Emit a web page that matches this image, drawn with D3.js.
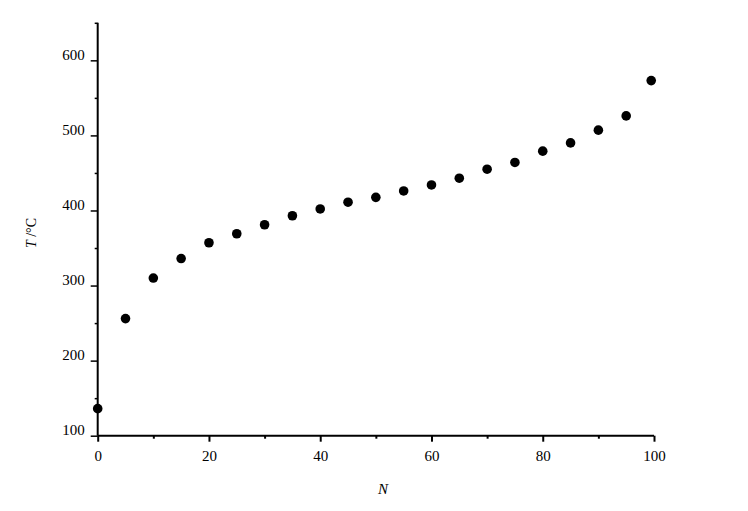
<!DOCTYPE html>
<html>
<head>
<meta charset="utf-8">
<script src="https://cdn.jsdelivr.net/npm/d3@7"></script>
<style>
  html, body { margin: 0; padding: 0; background: #fff; }
  svg { display: block; }
  text { font-family: "Liberation Serif", "DejaVu Serif", serif; fill: #000; }
</style>
</head>
<body>
<svg id="chart" width="748" height="511"></svg>
<script>
// Data
const nValues = [0, 5, 10, 15, 20, 25, 30, 35, 40, 45, 50, 55, 60, 65, 70, 75, 80, 85, 90, 95, 99.5];
const tValues = [136, 256, 310, 336, 357, 369, 381, 393, 402, 411, 417.5, 426, 434, 443, 455, 464, 479, 490, 507, 526, 573];
const xMajorTicks = [0, 20, 40, 60, 80, 100];
const xMinorTicks = [10, 30, 50, 70, 90];
const yMajorTicks = [100, 200, 300, 400, 500, 600];
const yMinorTicks = [150, 250, 350, 450, 550, 650];
const xTitle = "N";
const yTitle = "T /°C";

const svg = d3.select("#chart");
const x = d3.scaleLinear().domain([0, 100]).range([97.7, 654]);
const y = d3.scaleLinear().domain([100, 650]).range([435.7, 22.8]);

// Axis lines
svg.append("line").attr("x1", x(0)).attr("x2", x(100)).attr("y1", y(100)).attr("y2", y(100))
  .attr("stroke", "#000").attr("stroke-width", 2);
svg.append("line").attr("x1", x(0)).attr("x2", x(0)).attr("y1", y(100)).attr("y2", y(650))
  .attr("stroke", "#000").attr("stroke-width", 2);

// X axis ticks
const xAxisMajor = d3.axisBottom(x).tickValues(xMajorTicks).tickSize(6).tickPadding(9).tickFormat(d3.format("d"));
const gx = svg.append("g").attr("transform", `translate(0,${y(100)})`).call(xAxisMajor);
gx.select(".domain").remove();
gx.selectAll(".tick line").attr("stroke-width", 2);
gx.selectAll(".tick text").attr("font-size", 15).attr("font-family", "Liberation Serif");
const xAxisMinor = d3.axisBottom(x).tickValues(xMinorTicks).tickSize(3).tickFormat("");
const gxm = svg.append("g").attr("transform", `translate(0,${y(100)})`).call(xAxisMinor);
gxm.select(".domain").remove();
gxm.selectAll(".tick line").attr("stroke-width", 2);

// Y axis ticks
const yAxisMajor = d3.axisLeft(y).tickValues(yMajorTicks).tickSize(7).tickPadding(6).tickFormat(d3.format("d"));
const gy = svg.append("g").attr("transform", `translate(${x(0)},0)`).call(yAxisMajor);
gy.select(".domain").remove();
gy.selectAll(".tick line").attr("stroke-width", 1.5);
gy.selectAll(".tick text").attr("font-size", 15).attr("dy", "-0.05em").attr("font-family", "Liberation Serif");
const yAxisMinor = d3.axisLeft(y).tickValues(yMinorTicks).tickSize(3).tickFormat("");
const gym = svg.append("g").attr("transform", `translate(${x(0)},0)`).call(yAxisMinor);
gym.select(".domain").remove();
gym.selectAll(".tick line").attr("stroke-width", 1.5);

// Titles
svg.append("text").attr("x", 383).attr("y", 494).attr("text-anchor", "middle")
  .attr("font-size", 15).attr("font-style", "italic").text(xTitle);
const yt = svg.append("text").attr("transform", "translate(36,233) rotate(-90)")
  .attr("text-anchor", "middle").attr("font-size", 14);
yt.append("tspan").attr("font-style", "italic").text("T");
yt.append("tspan").text(" /°C");

// Points
svg.append("g").selectAll("circle")
  .data(nValues.map((n, i) => ({ n, t: tValues[i] })))
  .join("circle")
  .attr("cx", d => x(d.n))
  .attr("cy", d => y(d.t))
  .attr("r", 4.8)
  .attr("fill", "#000");
</script>
</body>
</html>
